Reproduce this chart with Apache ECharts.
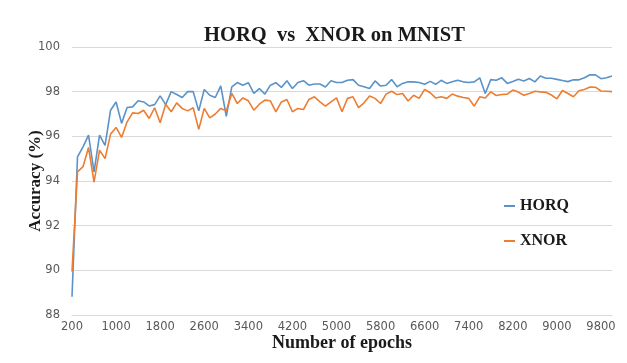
<!DOCTYPE html>
<html>
<head>
<meta charset="utf-8">
<script src="https://cdn.jsdelivr.net/npm/echarts@6/dist/echarts.min.js"></script>
<style>
html,body{margin:0;padding:0;background:#fff;}
#c{width:627px;height:363px;}
</style>
</head>
<body>
<div id="c"></div>
<script>
const epochs = [200,300,400,500,600,700,800,900,1000,1100,1200,1300,1400,1500,1600,1700,1800,1900,2000,
2100,2200,2300,2400,2500,2600,2700,2800,2900,3000,3100,3200,3300,3400,3500,3600,3700,3800,3900,4000,
4100,4200,4300,4400,4500,4600,4700,4800,4900,5000,5100,5200,5300,5400,5500,5600,5700,5800,5900,6000,
6100,6200,6300,6400,6500,6600,6700,6800,6900,7000,7100,7200,7300,7400,7500,7600,7700,7800,7900,8000,
8100,8200,8300,8400,8500,8600,8700,8800,8900,9000,9100,9200,9300,9400,9500,9600,9700,9800,9900,10000];

const horq = [88.82,95.08,95.53,96.05,94.41,96.05,95.6,97.17,97.54,96.58,
97.29,97.32,97.59,97.54,97.36,97.42,97.81,97.42,98.0,97.87,
97.74,98.0,98.0,97.14,98.1,97.84,97.74,98.26,96.9,98.21,
98.41,98.29,98.4,97.92,98.14,97.89,98.29,98.4,98.19,98.49,
98.14,98.41,98.49,98.29,98.34,98.34,98.21,98.49,98.41,98.41,
98.51,98.54,98.29,98.22,98.14,98.48,98.25,98.29,98.54,98.22,
98.37,98.44,98.44,98.41,98.33,98.46,98.33,98.51,98.37,98.44,
98.51,98.44,98.41,98.44,98.62,97.92,98.54,98.51,98.62,98.37,
98.46,98.56,98.48,98.59,98.44,98.7,98.6,98.6,98.55,98.5,
98.45,98.53,98.53,98.62,98.76,98.75,98.58,98.62,98.7];

const xnor = [89.95,94.41,94.64,95.5,93.95,95.38,95.0,96.1,96.4,95.95,
96.65,97.05,97.02,97.17,96.8,97.28,96.61,97.44,97.1,97.5,
97.25,97.14,97.28,96.31,97.25,96.83,97.0,97.25,97.14,97.92,
97.47,97.72,97.59,97.17,97.44,97.62,97.59,97.1,97.54,97.65,
97.1,97.25,97.2,97.65,97.77,97.54,97.35,97.54,97.72,97.1,
97.7,97.77,97.29,97.5,97.81,97.7,97.47,97.89,98.02,97.87,
97.92,97.58,97.84,97.7,98.1,97.95,97.72,97.77,97.7,97.89,
97.8,97.74,97.7,97.35,97.77,97.72,97.99,97.83,97.87,97.89,
98.07,97.98,97.84,97.92,98.02,97.99,97.97,97.85,97.68,98.05,
97.92,97.77,98.04,98.1,98.21,98.2,98.03,98.02,98.0];

const yTicks = [88,90,92,94,96,98,100];

const chart = echarts.init(document.getElementById('c'), null, {renderer:'canvas'});
const serif = '"Liberation Serif","Times New Roman",serif';
const sans = '"DejaVu Sans","Noto Sans",sans-serif';
chart.setOption({
  animation:false,
  backgroundColor:'#fff',
  title:{
    text:'HORQ  vs  XNOR on MNIST',
    left:199, top:20,
    textStyle:{fontFamily:serif, fontWeight:'bold', fontSize:20.5, color:'#1a1a1a'}
  },
  legend:{
    orient:'vertical', left:499, top:193, itemGap:19,
    icon:'rect', itemWidth:11, itemHeight:2,
    textStyle:{fontFamily:serif, fontWeight:'bold', fontSize:16, color:'#1a1a1a'},
    data:['HORQ','XNOR']
  },
  grid:{left:72, right:15, top:47, bottom:48},
  xAxis:{
    type:'category', data:epochs, boundaryGap:false,
    name:'Number of epochs', nameLocation:'middle', nameGap:19, nameMoveOverlap:false,
    nameTextStyle:{fontFamily:serif, fontWeight:'bold', fontSize:18, color:'#1a1a1a', verticalAlign:'top'},
    axisLine:{show:true, lineStyle:{color:'#d9d9d9'}},
    axisTick:{show:false},
    axisLabel:{interval:7, color:'#595959', fontFamily:sans, fontSize:11.5, margin:6},
    splitLine:{show:false}
  },
  yAxis:{
    type:'value', min:88, max:100, interval:2,
    name:'Accuracy (%)', nameLocation:'middle', nameGap:28, nameMoveOverlap:false,
    nameTextStyle:{fontFamily:serif, fontWeight:'bold', fontSize:17, color:'#1a1a1a'},
    axisLine:{show:false}, axisTick:{show:false},
    axisLabel:{color:'#595959', fontFamily:sans, fontSize:11.5, margin:12,
      formatter:v=>yTicks.includes(v)?String(v):''},
    splitLine:{lineStyle:{color:'#d9d9d9', width:1}}
  },
  series:[
    {name:'HORQ', type:'line', data:horq, showSymbol:false, symbol:'none',
     lineStyle:{color:'#5b93c8', width:1.6}, itemStyle:{color:'#5b93c8'}},
    {name:'XNOR', type:'line', data:xnor, showSymbol:false, symbol:'none',
     lineStyle:{color:'#ed7d31', width:1.6}, itemStyle:{color:'#ed7d31'}}
  ]
});
</script>
</body>
</html>
